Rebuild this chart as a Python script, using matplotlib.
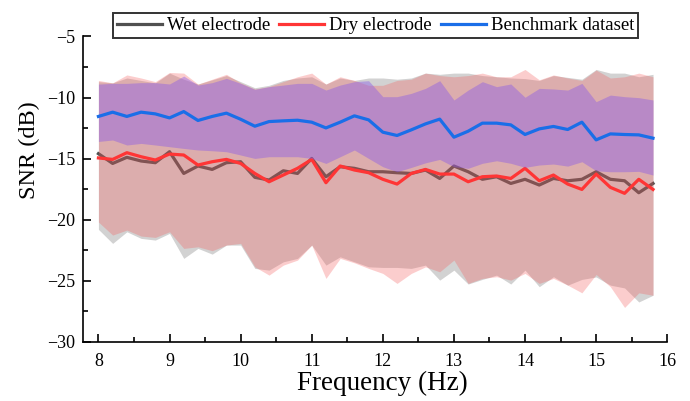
import numpy as np
import matplotlib
matplotlib.use("Agg")
import matplotlib.pyplot as plt
from matplotlib.ticker import MultipleLocator

plt.rcParams["font.family"] = ["Liberation Serif", "DejaVu Serif"]

# ── Data ──────────────────────────────────────────────────────────────────────
freq = np.round(np.arange(8.0, 15.81, 0.2), 1)   # 8.0 ... 15.8, 40 points

wet_mean = [-14.6, -15.4, -14.9, -15.2, -15.34, -14.44, -16.22, -15.61, -15.89, -15.34,
            -15.26, -16.54, -16.76, -16.0, -16.22, -14.99, -16.49, -15.67, -15.8, -16.08,
            -16.08, -16.16, -16.22, -15.94, -16.63, -15.61, -16.08, -16.7, -16.49, -17.04,
            -16.7, -17.17, -16.63, -16.82, -16.7, -16.08, -16.7, -16.82, -17.8, -17.04]
wet_upper = [-8.7, -8.8, -8.4, -8.6, -8.8, -8.0, -8.5, -8.9, -8.55, -8.2,
             -8.7, -9.2, -9.0, -8.6, -8.4, -8.3, -8.9, -8.4, -8.6, -8.4,
             -8.4, -8.5, -8.4, -8.0, -8.1, -8.0, -8.0, -8.2, -8.3, -8.4,
             -8.45, -8.6, -8.2, -8.35, -8.5, -7.7, -8.0, -8.0, -8.3, -8.1]
wet_lower = [-20.8, -21.95, -21.0, -21.54, -21.68, -21.13, -23.18, -22.36, -22.83, -22.09,
             -22.09, -24.0, -24.14, -23.46, -23.18, -22.09, -23.73, -23.05, -23.46, -23.87,
             -23.92, -23.92, -24.0, -23.73, -24.96, -24.14, -25.28, -24.9, -24.55, -25.28,
             -24.14, -25.5, -24.68, -25.37, -24.9, -24.7, -25.37, -25.6, -26.75, -26.2]

dry_mean = [-14.95, -15.07, -14.52, -14.85, -15.12, -14.63, -14.71, -15.53, -15.26, -15.07,
            -15.4, -16.22, -16.9, -16.35, -15.8, -15.07, -16.98, -15.61, -15.94, -16.16,
            -16.7, -17.09, -16.22, -15.89, -16.27, -16.27, -16.9, -16.49, -16.43, -16.63,
            -15.8, -16.82, -16.35, -17.09, -17.53, -16.27, -17.36, -17.85, -16.7, -17.53]
dry_upper = [-8.6, -8.8, -8.15, -8.4, -8.7, -7.95, -8.0, -8.9, -8.5, -8.1,
             -8.8, -9.3, -9.1, -8.7, -8.3, -8.0, -8.9, -8.3, -8.6, -9.0,
             -9.0, -8.6, -8.5, -8.0, -8.2, -8.3, -8.2, -8.0, -8.3, -8.3,
             -7.7, -8.55, -8.15, -8.4, -8.6, -7.75, -8.4, -8.3, -8.0, -8.3]
dry_lower = [-20.2, -21.27, -20.86, -21.35, -21.46, -21.0, -22.36, -22.23, -22.55, -22.09,
             -21.95, -23.87, -24.55, -23.73, -23.32, -22.09, -24.82, -23.18, -23.54, -24.0,
             -24.41, -25.23, -24.41, -23.87, -24.28, -23.32, -25.23, -24.82, -24.68, -24.96,
             -24.41, -25.23, -24.82, -25.37, -26.0, -24.5, -25.5, -27.2, -26.0, -26.2]

bench_mean = [-11.55, -11.2, -11.55, -11.2, -11.34, -11.67, -11.15, -11.88, -11.55, -11.28,
              -11.78, -12.35, -11.97, -11.91, -11.86, -12.02, -12.49, -12.02, -11.5, -11.83,
              -12.84, -13.11, -12.65, -12.16, -11.77, -13.25, -12.76, -12.1, -12.1, -12.24,
              -13.03, -12.57, -12.37, -12.62, -12.02, -13.47, -12.98, -13.03, -13.06, -13.33]
bench_upper = [-8.9, -8.84, -8.84, -8.78, -8.78, -8.89, -8.24, -8.98, -8.78, -8.43,
               -8.84, -9.33, -9.11, -8.98, -8.84, -8.84, -9.39, -8.98, -8.7, -8.62,
               -9.93, -9.93, -9.66, -9.25, -8.62, -10.2, -9.39, -8.7, -9.11, -8.89,
               -9.98, -9.25, -9.3, -9.39, -8.84, -10.34, -9.8, -9.93, -10.01, -10.2]
bench_lower = [-13.6, -13.48, -13.89, -13.76, -13.89, -14.03, -14.17, -14.3, -14.36, -14.44,
               -14.71, -14.99, -14.85, -14.85, -14.85, -14.99, -15.4, -14.85, -14.3, -14.99,
               -15.67, -16.08, -15.73, -15.35, -15.07, -15.67, -15.8, -15.39, -15.18, -15.39,
               -15.72, -15.53, -15.45, -15.62, -15.26, -16.0, -16.08, -16.08, -16.05, -16.35]

# ── Plot ──────────────────────────────────────────────────────────────────────
fig = plt.figure(figsize=(6.9, 4.01), dpi=100)
ax = fig.add_axes([0.121, 0.148, 0.846, 0.761])

ax.fill_between(freq, wet_lower, wet_upper, color="#d2d2d2", lw=0, zorder=1)
ax.plot(freq, wet_mean, color="#505050", lw=2.3, zorder=2)
ax.fill_between(freq, dry_lower, dry_upper, color="#f55a5a", alpha=0.3, lw=0, zorder=3)
ax.plot(freq, dry_mean, color="#ff3535", lw=2.3, zorder=4)
ax.fill_between(freq, bench_lower, bench_upper, color="#8858e9", alpha=0.42, lw=0, zorder=5)
ax.plot(freq, bench_mean, color="#1a6ee8", lw=2.3, zorder=6)

# legend handles drawn with clean colours
h_wet, = ax.plot([], [], color="#505050", lw=2.3)
h_dry, = ax.plot([], [], color="#ff3535", lw=2.3)
h_ben, = ax.plot([], [], color="#1a6ee8", lw=2.3)
leg = ax.legend([h_wet, h_dry, h_ben], ["Wet electrode", "Dry electrode", "Benchmark dataset"],
                loc="lower center", bbox_to_anchor=(0.5, 0.995), ncol=3, fontsize=13.5,
                frameon=True, fancybox=False, edgecolor="black", borderaxespad=0,
                borderpad=0.2, handlelength=2.4, handletextpad=0.25, columnspacing=0.5)
leg.get_frame().set_linewidth(1.4)

ax.set_xlim(7.79, 16)
ax.set_ylim(-30, -5)
ax.xaxis.set_major_locator(MultipleLocator(1))
ax.xaxis.set_minor_locator(MultipleLocator(0.5))
ax.yaxis.set_major_locator(MultipleLocator(5))
ax.yaxis.set_minor_locator(MultipleLocator(2.5))
ax.tick_params(which="both", direction="in", width=1.2, labelsize=13)
ax.tick_params(which="major", length=6)
ax.tick_params(which="minor", length=3.5)
ax.tick_params(axis="x", pad=8)
ax.tick_params(axis="y", pad=6)

for s in ["top", "right"]:
    ax.spines[s].set_visible(False)
for s in ["left", "bottom"]:
    ax.spines[s].set_linewidth(1.2)

ax.set_xlabel("Frequency (Hz)", fontsize=19.5)
ax.set_ylabel("SNR (dB)", fontsize=17.5)
ax.xaxis.set_label_coords(0.512, -0.095)
ax.yaxis.set_label_coords(-0.074, 0.628)

fig.savefig("out.png", dpi=100)
